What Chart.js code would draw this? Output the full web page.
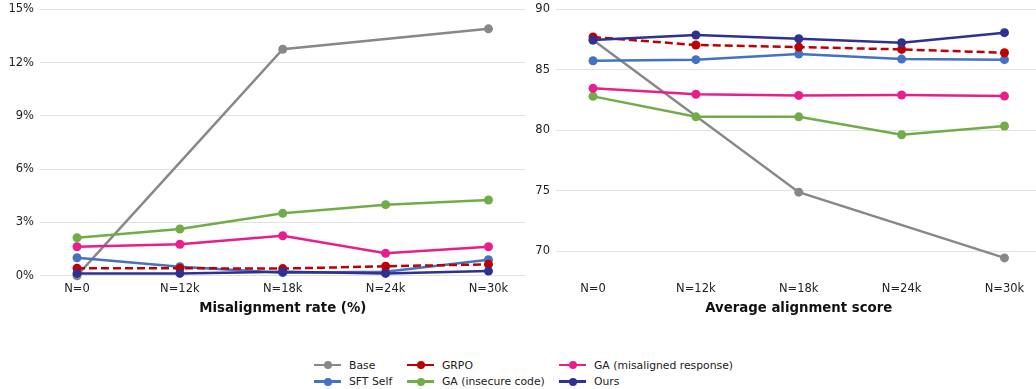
<!DOCTYPE html>
<html>
<head>
<meta charset="utf-8">
<script src="https://cdn.jsdelivr.net/npm/chart.js@4/dist/chart.umd.min.js"></script>
<style>
  html, body { margin: 0; padding: 0; background: #fff; }
  body { width: 1036px; height: 389px; position: relative; overflow: hidden; font-family: "DejaVu Sans", sans-serif; }
  #rateChart { position: absolute; left: 0; top: 0; }
  #scoreChart { position: absolute; left: 520px; top: 0; }
  #legend {
    position: absolute; left: 314px; top: 356.75px;
    display: grid; grid-template-columns: 93px 152px auto; grid-template-rows: 16.5px 16.5px;
    grid-auto-flow: column; font-size: 10.8px; color: #222;
  }
  .item { display: flex; align-items: center; white-space: nowrap; }
  .sw { position: relative; width: 27px; height: 10px; margin-right: 8px; flex: none; }
  .sw .ln { position: absolute; left: 0; right: 0; top: 3.75px; height: 2.5px; }
  .sw .dot { position: absolute; left: 9.5px; top: 1px; width: 8px; height: 8px; border-radius: 50%; }
</style>
</head>
<body>
<canvas id="rateChart" width="530" height="325"></canvas>
<canvas id="scoreChart" width="526" height="325"></canvas>
<div id="legend"></div>
<script>
// Training-set sizes along the x axis
const categories = ['N=0', 'N=12k', 'N=18k', 'N=24k', 'N=30k'];
const seriesNames = ['Base', 'SFT Self', 'GRPO', 'GA (insecure code)', 'GA (misaligned response)', 'Ours'];

// Misalignment rate (%)
const baseRate   = [0.0, null, 12.75, null, 13.9];
const sftRate    = [1.01, 0.51, 0.17, 0.22, 0.9];
const grpoRate   = [0.42, 0.42, 0.4, 0.53, 0.64];
const gaCodeRate = [2.14, 2.63, 3.51, 4.0, 4.26];
const gaRespRate = [1.63, 1.77, 2.25, 1.26, 1.63];
const oursRate   = [0.13, 0.13, 0.22, 0.13, 0.26];

// Average alignment score
const baseScore   = [87.46, null, 74.9, null, 69.47];
const sftScore    = [85.75, 85.84, 86.31, 85.89, 85.84];
const grpoScore   = [87.71, 87.05, 86.88, 86.69, 86.41];
const gaCodeScore = [82.81, 81.12, 81.12, 79.64, 80.36];
const gaRespScore = [83.47, 82.98, 82.89, 82.92, 82.83];
const oursScore   = [87.46, 87.88, 87.57, 87.24, 88.07];

// Series styling
const colors = ['#888888', '#4472C4', '#C00000', '#70AD47', '#E91E8C', '#2E3192'];
const dashes = [[], [], [8, 4], [], [], []];

const FONT = '"DejaVu Sans", sans-serif';
const TEXT = '#222';

function makeDatasets(seriesValues) {
  return seriesValues.map((vals, i) => ({
    label: seriesNames[i],
    data: vals.map((v, j) => ({ x: j, y: v })),
    borderColor: colors[i],
    backgroundColor: colors[i],
    pointBackgroundColor: colors[i],
    borderWidth: 2.5,
    borderDash: dashes[i],
    pointRadius: 4.5,
    pointHoverRadius: 4.5,
    pointBorderWidth: 0,
    spanGaps: true,
    clip: false,
    tension: 0,
    // later series are drawn above earlier ones
    order: seriesValues.length - i
  }));
}

function makeChart(id, seriesValues, yCfg, axisWidth, title) {
  return new Chart(document.getElementById(id), {
    type: 'line',
    data: { datasets: makeDatasets(seriesValues) },
    options: {
      responsive: false,
      animation: false,
      devicePixelRatio: 1,
      events: [],
      layout: { padding: { top: 9.3, bottom: 8, left: 0, right: 0 } },
      plugins: { legend: { display: false }, tooltip: { enabled: false } },
      scales: {
        x: {
          type: 'linear',
          min: -0.36,
          max: 4.36,
          grid: { display: false, drawTicks: false },
          border: { display: false },
          ticks: {
            stepSize: 1, includeBounds: false, autoSkip: false, maxRotation: 0,
            padding: 6, color: TEXT, font: { family: FONT, size: 11.5 },
            callback: v => (Number.isInteger(v) && categories[v] !== undefined) ? categories[v] : ''
          },
          title: {
            display: true, text: title, color: '#111',
            font: { family: FONT, size: 13.3, weight: 'bold' },
            padding: { top: 0, bottom: 0 }
          },
          afterFit: s => { s.height = 41.3; }
        },
        y: {
          min: yCfg.min,
          max: yCfg.max,
          grid: { color: '#e2e2e2', lineWidth: 1, drawTicks: false },
          border: { display: false },
          ticks: {
            stepSize: yCfg.step, includeBounds: false, padding: 6,
            color: TEXT, font: { family: FONT, size: 11.5 },
            callback: yCfg.format
          },
          afterFit: s => {
            s.width = axisWidth;
            // the end labels may sit at the plot edge without extra room
            s.paddingTop = 0;
            s.paddingBottom = 0;
          }
        }
      }
    }
  });
}

makeChart('rateChart',
  [baseRate, sftRate, grpoRate, gaCodeRate, gaRespRate, oursRate],
  { min: 0, max: 15, step: 3, format: v => v + '%' },
  40, 'Misalignment rate (%)');

makeChart('scoreChart',
  [baseScore, sftScore, grpoScore, gaCodeScore, gaRespScore, oursScore],
  { min: 68, max: 90, step: 5, format: v => String(v) },
  36, 'Average alignment score');

// Shared legend, three columns filled top to bottom
const legend = document.getElementById('legend');
seriesNames.forEach((name, i) => {
  const item = document.createElement('div');
  item.className = 'item';
  const sw = document.createElement('span');
  sw.className = 'sw';
  const ln = document.createElement('i');
  ln.className = 'ln';
  ln.style.background = colors[i];
  const dot = document.createElement('i');
  dot.className = 'dot';
  dot.style.background = colors[i];
  sw.appendChild(ln);
  sw.appendChild(dot);
  const label = document.createElement('span');
  label.textContent = name;
  item.appendChild(sw);
  item.appendChild(label);
  legend.appendChild(item);
});
</script>
</body>
</html>
